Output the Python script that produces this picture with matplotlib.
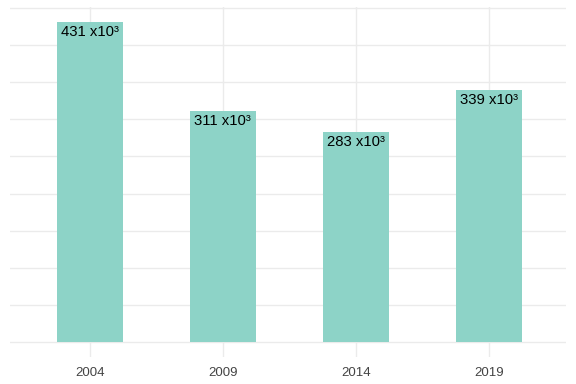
import numpy as np
import matplotlib.pyplot as plt

years = ['2004', '2009', '2014', '2019']
values = [431, 311, 283, 339]
labels = ['431 x10³', '311 x10³', '283 x10³', '339 x10³']

plt.rcParams['font.family'] = ['Liberation Sans', 'DejaVu Sans']

fig = plt.figure(figsize=(5.76, 3.84), dpi=100)
ax = fig.add_axes([10/576, 27/384, 556/576, 350/384])

x = np.arange(len(years))
ax.bar(x, values, width=0.5, color='#8DD3C7', zorder=2)

for xi, v, lab in zip(x, values, labels):
    ax.annotate(lab, (xi, v), xytext=(0, -2), textcoords='offset points',
                ha='center', va='top', fontsize=10.7, color='black', zorder=3)

ax.set_xlim(-0.6, 3.58)
ax.set_ylim(-20.2, 451.3)
ax.set_yticks(np.arange(0, 451, 50))
ax.set_yticklabels([])
ax.set_xticks(x)
ax.set_xticklabels(years, fontsize=9.5, color='#444444')
ax.tick_params(axis='x', length=0, pad=7)
ax.tick_params(axis='y', length=0, pad=0)
ax.grid(True, color='#EBEBEB', linewidth=1, zorder=0)
for s in ax.spines.values():
    s.set_visible(False)

fig.savefig('out.png', dpi=100)
